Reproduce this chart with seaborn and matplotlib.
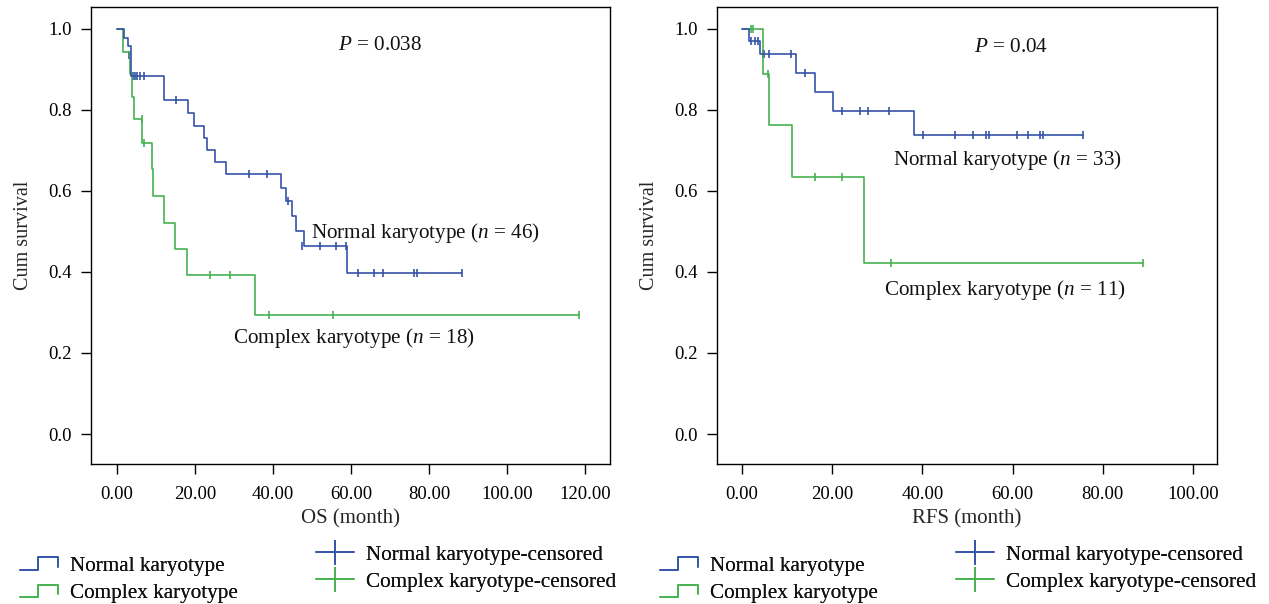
import numpy as np
import pandas as pd
import matplotlib
matplotlib.use("Agg")
import matplotlib.pyplot as plt
import seaborn as sns
from matplotlib.legend_handler import HandlerBase
from matplotlib.lines import Line2D

# ---------------- dane ----------------
# OS - normalny kariotyp (czasy zdarzen / przezycie po zdarzeniu)
os_norm_t = [0.0, 1.8, 2.7, 3.6, 11.9, 18.3, 19.7, 22.4, 23.1, 25.1, 27.9, 42.0, 43.2, 44.8, 45.9, 47.9, 59.0, 88.5]
os_norm_s = [1.0, 0.978, 0.957, 0.884, 0.825, 0.793, 0.761, 0.730, 0.701, 0.671, 0.641, 0.607, 0.574, 0.537, 0.501, 0.464, 0.398, 0.398]
os_norm_ct = [3.1, 4.0, 4.6, 5.2, 5.8, 7.0, 15.0, 33.8, 38.4, 43.9, 47.5, 52.0, 56.1, 58.7, 61.9, 65.9, 68.1, 76.2, 76.8, 88.5]
os_norm_cs = [0.935, 0.884, 0.884, 0.884, 0.884, 0.884, 0.825, 0.641, 0.641, 0.574, 0.464, 0.464, 0.464, 0.464, 0.398, 0.398, 0.398, 0.398, 0.398, 0.398]

# OS - kariotyp zlozony
os_comp_t = [0.0, 1.5, 3.2, 3.9, 4.4, 6.5, 9.0, 9.3, 11.9, 14.9, 17.9, 35.4, 118.5]
os_comp_s = [1.0, 0.944, 0.889, 0.833, 0.778, 0.718, 0.653, 0.587, 0.522, 0.457, 0.392, 0.294, 0.294]
os_comp_ct = [6.4, 7.0, 23.8, 29.0, 39.0, 55.3, 118.5]
os_comp_cs = [0.778, 0.718, 0.392, 0.392, 0.294, 0.294, 0.294]

# RFS - normalny kariotyp
rfs_norm_t = [0.0, 1.6, 4.0, 12.1, 16.2, 20.1, 38.1, 75.7]
rfs_norm_s = [1.0, 0.970, 0.938, 0.892, 0.844, 0.798, 0.737, 0.737]
rfs_norm_ct = [2.0, 2.9, 3.5, 4.6, 5.0, 6.0, 11.0, 14.1, 22.1, 26.1, 28.0, 32.6,
               40.1, 47.2, 51.2, 54.1, 54.7, 61.0, 63.5, 66.0, 66.8, 75.7]
rfs_norm_cs = [0.970, 0.970, 0.970, 0.938, 0.938, 0.938, 0.938, 0.892, 0.798, 0.798, 0.798, 0.798,
               0.737, 0.737, 0.737, 0.737, 0.737, 0.737, 0.737, 0.737, 0.737, 0.737]

# RFS - kariotyp zlozony
rfs_comp_t = [0.0, 4.6, 6.1, 11.1, 27.0, 89.0]
rfs_comp_s = [1.0, 0.889, 0.762, 0.635, 0.423, 0.423]
rfs_comp_ct = [2.1, 2.5, 5.9, 16.2, 22.1, 33.0, 89.0]
rfs_comp_cs = [1.0, 1.0, 0.889, 0.635, 0.635, 0.423, 0.423]

x_ticks_os = [0, 20, 40, 60, 80, 100, 120]
x_ticks_rfs = [0, 20, 40, 60, 80, 100]
y_ticks = [0.0, 0.2, 0.4, 0.6, 0.8, 1.0]

BLUE = "#3553a8"
GREEN = "#45b150"

sns.set_theme(style="ticks")
plt.rcParams["font.family"] = ["Liberation Serif", "DejaVu Serif"]
plt.rcParams["mathtext.fontset"] = "custom"
plt.rcParams["mathtext.rm"] = "Liberation Serif"
plt.rcParams["mathtext.it"] = "Liberation Serif:italic"
plt.rcParams["axes.edgecolor"] = "black"
plt.rcParams["xtick.color"] = "black"
plt.rcParams["ytick.color"] = "black"
plt.rcParams["text.color"] = "#111111"


class StepHandler(HandlerBase):
    # ikonka legendy w ksztalcie schodka
    def create_artists(self, legend, orig_handle, xdescent, ydescent, width, height, fontsize, trans):
        x0, y0 = -xdescent, -ydescent
        xs = [x0, x0 + 0.47 * width, x0 + 0.47 * width, x0 + width, x0 + width]
        ys = [y0, y0, y0 + height, y0 + height, y0 + 0.25 * height]
        ln = Line2D(xs, ys, color=orig_handle.get_color(), lw=1.2, transform=trans)
        return [ln]


fig = plt.figure(figsize=(12.69, 6.04), dpi=100)
ax1 = fig.add_axes([91 / 1269, 140 / 604, 519 / 1269, 457 / 604])
ax2 = fig.add_axes([717 / 1269, 140 / 604, 500 / 1269, 457 / 604])


def km_panel(ax, nt, ns, nct, ncs, ct, cs, cct, ccs, xticks, xlim, xlabel):
    d_n = pd.DataFrame({"t": nt, "s": ns})
    d_c = pd.DataFrame({"t": ct, "s": cs})
    sns.lineplot(data=d_c, x="t", y="s", ax=ax, color=GREEN, drawstyle="steps-post",
                 estimator=None, sort=False, lw=1.2)
    sns.lineplot(data=d_n, x="t", y="s", ax=ax, color=BLUE, drawstyle="steps-post",
                 estimator=None, sort=False, lw=1.2)
    sns.scatterplot(x=cct, y=ccs, ax=ax, marker="|", s=38, color=GREEN, linewidth=1.2)
    sns.scatterplot(x=nct, y=ncs, ax=ax, marker="|", s=38, color=BLUE, linewidth=1.2)
    ax.set_xlim(*xlim)
    ax.set_ylim(-0.074, 1.054)
    ax.set_xticks(xticks)
    ax.set_xticklabels([f"{v:.2f}" for v in xticks])
    ax.set_yticks(y_ticks)
    ax.set_yticklabels([f"{v:.1f}" for v in y_ticks])
    ax.tick_params(axis="both", labelsize=13.5, length=7, width=1, direction="out")
    ax.tick_params(axis="x", pad=9)
    ax.tick_params(axis="y", pad=7)
    ax.set_xlabel(xlabel, fontsize=15, labelpad=4)
    ax.set_ylabel("Cum survival", fontsize=14.5, labelpad=11)
    for sp in ax.spines.values():
        sp.set_visible(True)
        sp.set_linewidth(1.0)
        sp.set_color("black")


km_panel(ax1, os_norm_t, os_norm_s, os_norm_ct, os_norm_cs,
         os_comp_t, os_comp_s, os_comp_ct, os_comp_cs,
         x_ticks_os, (-6.7, 126.4), "OS (month)")
km_panel(ax2, rfs_norm_t, rfs_norm_s, rfs_norm_ct, rfs_norm_cs,
         rfs_comp_t, rfs_comp_s, rfs_comp_ct, rfs_comp_cs,
         x_ticks_rfs, (-5.5, 105.3), "RFS (month)")

FS = 15.2
ax1.text(67.5, 0.958, "$P$ = 0.038", fontsize=FS, ha="center", va="center")
ax1.text(49.7, 0.497, "Normal karyotype ($n$ = 46)", fontsize=FS, ha="left", va="center")
ax1.text(29.7, 0.237, "Complex karyotype ($n$ = 18)", fontsize=FS, ha="left", va="center")

ax2.text(59.7, 0.953, "$P$ = 0.04", fontsize=FS, ha="center", va="center")
ax2.text(33.4, 0.677, "Normal karyotype ($n$ = 33)", fontsize=FS, ha="left", va="center")
ax2.text(31.4, 0.356, "Complex karyotype ($n$ = 11)", fontsize=FS, ha="left", va="center")

# legendy pod wykresami
for x_off in (0, 640):
    step_h = [Line2D([], [], color=BLUE), Line2D([], [], color=GREEN)]
    cens_h = [Line2D([], [], color=BLUE, marker="|", markersize=18, lw=1.2, mew=1.2),
              Line2D([], [], color=GREEN, marker="|", markersize=18, lw=1.2, mew=1.2)]
    leg1 = fig.legend(step_h, ["Normal karyotype", "Complex karyotype"],
                      handler_map={Line2D: StepHandler()},
                      loc="upper left", bbox_to_anchor=((x_off + 20) / 1269, 1 - 557 / 604),
                      frameon=False, fontsize=15.2, handlelength=1.8, handleheight=0.5,
                      handletextpad=0.56, labelspacing=0.39, borderpad=0, borderaxespad=0)
    fig.add_artist(leg1)
    leg2 = fig.legend(cens_h, ["Normal karyotype-censored", "Complex karyotype-censored"],
                      loc="upper left", bbox_to_anchor=((x_off + 316) / 1269, 1 - 545 / 604),
                      frameon=False, fontsize=15.2, handlelength=1.8,
                      handletextpad=0.56, labelspacing=0.33, borderpad=0, borderaxespad=0)
    fig.add_artist(leg2)

fig.savefig("out.png", dpi=100)
